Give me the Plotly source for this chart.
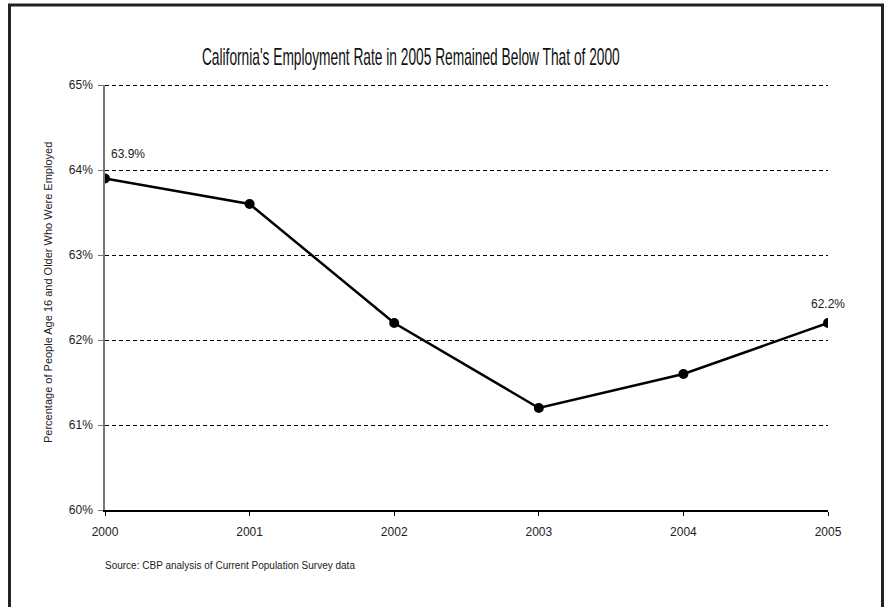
import plotly.graph_objects as go

years = [2000, 2001, 2002, 2003, 2004, 2005]
rates = [63.9, 63.6, 62.2, 61.2, 61.6, 62.2]
y_ticks = [60, 61, 62, 63, 64, 65]
y_tick_labels = ["60%", "61%", "62%", "63%", "64%", "65%"]
label_years = [2000, 2005]
label_values = [63.9, 62.2]

title_text = "California's Employment Rate in 2005 Remained Below That of 2000"
y_title = "Percentage of People Age 16 and Older Who Were Employed"
source_text = "Source: CBP analysis of Current Population Survey data"

L, R, T, B = 105, 56, 85, 97
W, H = 884, 607
pw, ph = W - L - R, H - T - B

def px(x):
    return (x - L) / pw

def py(y):
    return (H - B - y) / ph

fig = go.Figure()
fig.add_trace(go.Scatter(
    x=years, y=rates, mode="lines+markers",
    line=dict(color="black", width=2.5),
    marker=dict(color="black", size=10),
    showlegend=False, hoverinfo="skip",
))

label_style = [dict(xanchor="left", xshift=4, yshift=16),
               dict(xanchor="center", xshift=0, yshift=10)]
for (yr, v), st in zip(zip(label_years, label_values), label_style):
    fig.add_annotation(
        x=yr, y=v, text=f"{v:.1f}%", showarrow=False, yanchor="bottom",
        font=dict(family="Liberation Sans", size=12, color="#222"), **st,
    )

fig.add_annotation(
    x=px(103), y=py(565), xref="paper", yref="paper", text=source_text,
    showarrow=False, xanchor="left", yanchor="middle",
    font=dict(family="Liberation Sans", size=10, color="#222"),
)

fig.add_annotation(
    x=px(48), y=py(293), xref="paper", yref="paper", text=y_title,
    showarrow=False, textangle=-90, xanchor="center", yanchor="middle",
    font=dict(family="Liberation Sans", size=11, color="#222"),
)

# top gridline (plotly hides gridlines on the range edge)
fig.add_shape(type="line", xref="paper", yref="paper", x0=0, x1=1,
              y0=py(85.5), y1=py(85.5),
              line=dict(color="black", width=1, dash="4px,3px"), layer="below")

# frame around the chart
border = dict(color="#222", width=3)
fig.add_shape(type="line", xref="paper", yref="paper",
              x0=px(9.5), x1=px(9.5), y0=py(5), y1=py(620), line=border)
fig.add_shape(type="line", xref="paper", yref="paper",
              x0=px(8), x1=px(884), y0=py(5), y1=py(5), line=border)
fig.add_shape(type="line", xref="paper", yref="paper",
              x0=px(882.5), x1=px(882.5), y0=py(5), y1=py(620), line=border)

fig.update_layout(
    width=W, height=H,
    margin=dict(l=L, r=R, t=T, b=B),
    paper_bgcolor="white", plot_bgcolor="white",
    title=dict(text=title_text, x=px(441), xanchor="center", y=1 - 57 / H, yanchor="middle",
               font=dict(family="Liberation Sans", size=23, color="#111")),
    xaxis=dict(
        range=[2000, 2005], tickvals=years, ticktext=[str(y) for y in years],
        showline=True, linecolor="black", linewidth=1.5,
        ticks="outside", ticklen=4, tickcolor="black", tickwidth=1,
        ticklabelstandoff=6,
        showgrid=False, zeroline=False,
        tickfont=dict(family="Liberation Sans", size=12, color="#222"),
    ),
    yaxis=dict(
        range=[60, 65], tickvals=y_ticks, ticktext=y_tick_labels,
        showline=True, linecolor="#777", linewidth=1.5,
        ticks="outside", ticklen=5, tickcolor="#777", tickwidth=1,
        ticklabelstandoff=3,
        showgrid=True, gridcolor="black", gridwidth=1, griddash="4px,3px",
        zeroline=False,
        tickfont=dict(family="Liberation Sans", size=12, color="#222"),
    ),
)

# condense the title horizontally to mimic the narrow typeface of the original
post = """
var gd = document.getElementById('{plot_id}');
function squeeze() {
  var t = gd.querySelector('.gtitle');
  if (!t) return;
  t.removeAttribute('transform');
  var b = t.getBBox();
  var cx = b.x + b.width / 2;
  var s = 418 / b.width;
  t.setAttribute('transform', 'translate(' + cx + ',0) scale(' + s + ',1) translate(' + (-cx) + ',0)');
}
squeeze();
gd.on('plotly_afterplot', squeeze);
"""

fig.write_html("out.html", post_script=post)
